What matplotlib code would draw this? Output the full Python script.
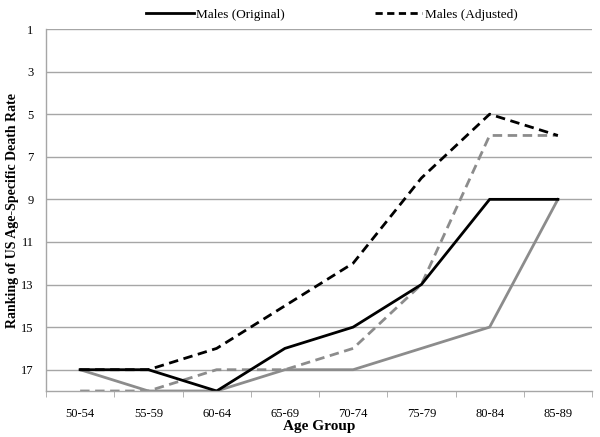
import matplotlib
matplotlib.use("Agg")
import matplotlib.pyplot as plt
from matplotlib.lines import Line2D
import numpy as np

categories = ["50-54", "55-59", "60-64", "65-69", "70-74", "75-79", "80-84", "85-89"]
males_original = [17, 17, 18, 16, 15, 13, 9, 9]
males_adjusted = [17, 17, 16, 14, 12, 8, 5, 6]
females_original = [17, 18, 18, 17, 17, 16, 15, 9]
females_adjusted = [18, 18, 17, 17, 16, 13, 6, 6]
yticks = [1, 3, 5, 7, 9, 11, 13, 15, 17]

plt.rcParams['font.family'] = ['Liberation Serif', 'DejaVu Serif']

fig = plt.figure(figsize=(6.0, 4.37), dpi=100)
ax = fig.add_axes([46/600, 1-391/437, 546/600, 362/437])

x = np.arange(len(categories))
grey = '#8c8c8c'
lw = 2.0
dash = (0, (3.4, 2.0))
ax.plot(x, females_original, color=grey, lw=lw, solid_joinstyle='miter')
ax.plot(x, females_adjusted, color=grey, lw=lw, ls=dash)
ax.plot(x, males_original, color='black', lw=lw, solid_joinstyle='miter')
ax.plot(x, males_adjusted, color='black', lw=lw, ls=dash)

ax.set_xlim(-0.5, len(categories) - 0.5)
ax.set_ylim(18, 1)
ax.set_yticks(yticks)
ax.set_yticklabels([str(v) for v in yticks], fontsize=9)
ax.grid(axis='y', color='#a6a6a6', lw=1)
ax.set_axisbelow(True)
ax.tick_params(axis='y', length=0, pad=9)

ax.set_xticks(x)
ax.set_xticklabels(categories, fontsize=9)
ax.set_xticks(np.arange(-0.5, len(categories)), minor=True)
ax.tick_params(axis='x', which='major', length=0, pad=12)
ax.tick_params(axis='x', which='minor', length=4, color='#a6a6a6', direction='out')

for s in ['top', 'right']:
    ax.spines[s].set_visible(False)
for s in ['left', 'bottom']:
    ax.spines[s].set_color('#a6a6a6')
    ax.spines[s].set_linewidth(1)

ax.set_xlabel("Age Group", fontsize=11, fontweight='bold', labelpad=0)
ax.set_ylabel("Ranking of US Age-Specific Death Rate", fontsize=10, fontweight='bold', labelpad=1)

handles = [Line2D([], [], color='black', lw=lw),
           Line2D([], [], color='black', lw=lw, ls=(0, (2.6, 1.6)))]
fig.legend(handles, ["Males (Original)", "Males (Adjusted)"], loc='center',
           bbox_to_anchor=(332/600, 1 - 15/437), ncol=2, frameon=False, fontsize=9.5,
           handlelength=3.6, handletextpad=0.2, columnspacing=6.8)

fig.savefig("out.png", dpi=100)
